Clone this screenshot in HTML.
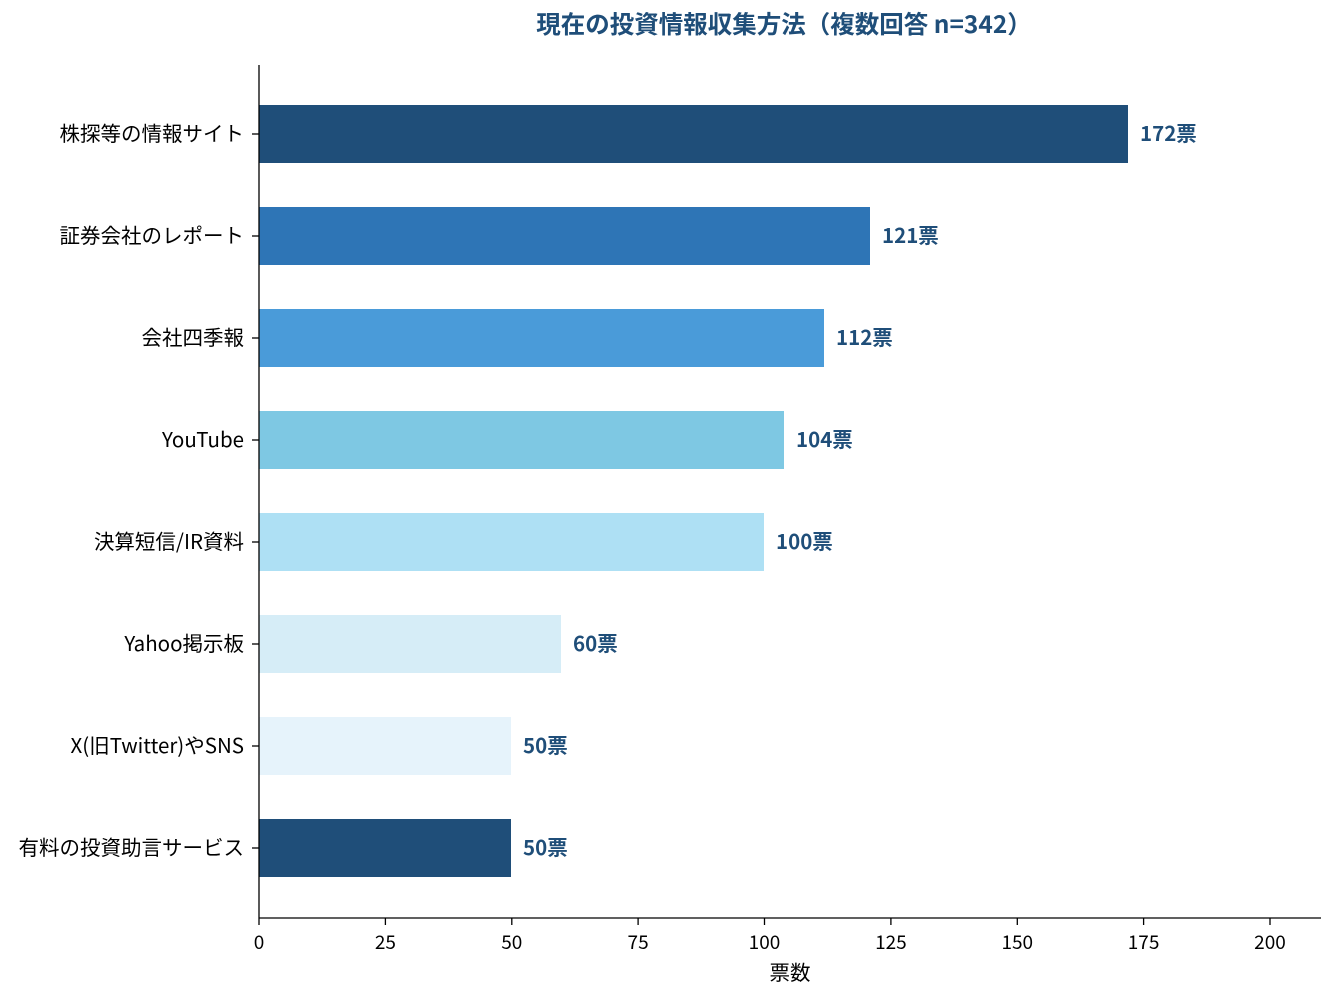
<!DOCTYPE html>
<html><head><meta charset="utf-8"><style>
html,body{margin:0;padding:0;background:#fff;}
svg text{font-family:"Noto Sans CJK JP","Liberation Sans",sans-serif;}
</style></head><body>
<svg width="1335" height="1001" viewBox="0 0 1335 1001" xmlns="http://www.w3.org/2000/svg">
<text x="784" y="33" text-anchor="middle" font-size="24.5" font-weight="bold" fill="#1f4e79">現在の投資情報収集方法（複数回答 n=342）</text>
<g>
<rect x="259" y="105" width="869" height="58" fill="#1f4e79"/>
<rect x="259" y="207" width="611" height="58" fill="#2e75b6"/>
<rect x="259" y="309" width="565" height="58" fill="#4a9bd9"/>
<rect x="259" y="411" width="525" height="58" fill="#7ec8e3"/>
<rect x="259" y="513" width="505" height="58" fill="#aee0f4"/>
<rect x="259" y="615" width="302" height="58" fill="#d6edf7"/>
<rect x="259" y="717" width="252" height="58" fill="#e6f3fb"/>
<rect x="259" y="819" width="252" height="58" fill="#1f4e79"/>
</g>
<g font-size="20.5" font-weight="bold" fill="#1f4e79">
<text x="1140" y="141">172票</text>
<text x="882" y="243">121票</text>
<text x="836" y="345">112票</text>
<text x="796" y="447">104票</text>
<text x="776" y="549">100票</text>
<text x="573" y="651">60票</text>
<text x="523" y="753">50票</text>
<text x="523" y="855">50票</text>
</g>
<g font-size="20.5" fill="#000" text-anchor="end">
<text x="244" y="141">株探等の情報サイト</text>
<text x="244" y="243">証券会社のレポート</text>
<text x="244" y="345">会社四季報</text>
<text x="244" y="447">YouTube</text>
<text x="244" y="549">決算短信/IR資料</text>
<text x="244" y="651">Yahoo掲示板</text>
<text x="244" y="753">X(旧Twitter)やSNS</text>
<text x="244" y="855">有料の投資助言サービス</text>
</g>
<g stroke="#000" stroke-width="1.3">
<line x1="259" y1="65" x2="259" y2="918"/>
<line x1="259" y1="918" x2="1321" y2="918"/>
<line x1="252" y1="134" x2="259" y2="134"/><line x1="252" y1="236" x2="259" y2="236"/>
<line x1="252" y1="338" x2="259" y2="338"/><line x1="252" y1="440" x2="259" y2="440"/>
<line x1="252" y1="542" x2="259" y2="542"/><line x1="252" y1="644" x2="259" y2="644"/>
<line x1="252" y1="746" x2="259" y2="746"/><line x1="252" y1="848" x2="259" y2="848"/>
<line x1="259" y1="918" x2="259" y2="925"/><line x1="385.4" y1="918" x2="385.4" y2="925"/>
<line x1="511.8" y1="918" x2="511.8" y2="925"/><line x1="638.1" y1="918" x2="638.1" y2="925"/>
<line x1="764.5" y1="918" x2="764.5" y2="925"/><line x1="890.9" y1="918" x2="890.9" y2="925"/>
<line x1="1017.3" y1="918" x2="1017.3" y2="925"/><line x1="1143.6" y1="918" x2="1143.6" y2="925"/>
<line x1="1270" y1="918" x2="1270" y2="925"/>
</g>
<g font-size="19" fill="#000" text-anchor="middle">
<text x="259" y="949">0</text><text x="385.4" y="949">25</text><text x="511.8" y="949">50</text>
<text x="638.1" y="949">75</text><text x="764.5" y="949">100</text><text x="890.9" y="949">125</text>
<text x="1017.3" y="949">150</text><text x="1143.6" y="949">175</text><text x="1270" y="949">200</text>
<text x="790" y="980" font-size="20.5">票数</text>
</g>
</svg>
</body></html>
